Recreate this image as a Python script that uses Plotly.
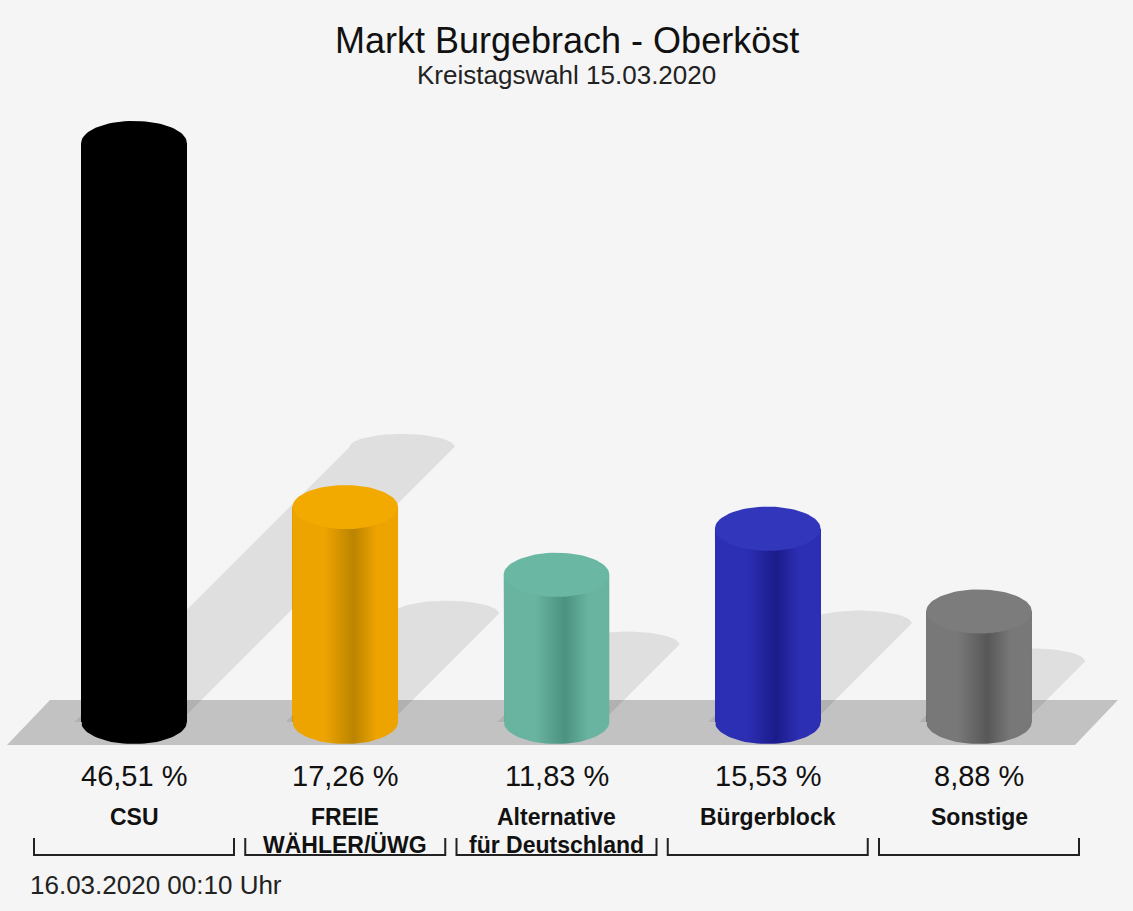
import numpy as np
import plotly.graph_objects as go

# ---------------- data ----------------
title = "Markt Burgebrach - Oberköst"
subtitle = "Kreistagswahl 15.03.2020"
timestamp = "16.03.2020 00:10 Uhr"
parties = ["CSU", "FREIE<br>WÄHLER/ÜWG", "Alternative<br>für Deutschland", "Bürgerblock", "Sonstige"]
values = [46.51, 17.26, 11.83, 15.53, 8.88]
colors = ["#000000", "#eea400", "#68b4a0", "#2c2fb4", "#787878"]
dark_colors = ["#000000", "#bb8400", "#4c9280", "#1b1b8a", "#575757"]
top_colors = ["#000000", "#f2a900", "#6ab8a3", "#3236ba", "#7c7c7c"]

W, H = 1133, 911
PX_X = 211.25      # px per category step
X0_PX = 134.0      # px of first category centre
PX_Y = 12.45       # px per percent
Y0_PX = 722.0      # px of value 0


def dx(px):
    return (px - X0_PX) / PX_X


def dy(py):
    return (Y0_PX - py) / PX_Y


def ppy(py):
    return 1 - py / H


xs = list(range(len(values)))
bar_w = 0.5
ell_a = bar_w / 2
ell_b = 22 / PX_Y

fig = go.Figure()

# floor (pixel based decoration)
floor = [(50, 700), (1118, 700), (1075, 745), (7, 745)]
fig.add_shape(type="path", xref="x", yref="y",
              path="M " + " L ".join(f"{dx(a)},{dy(b)}" for a, b in floor) + " Z",
              fillcolor="#c2c2c2", line=dict(width=0), layer="below")

# shadows
t_cap = np.linspace(np.pi, 0, 30)
for i, v in enumerate(values):
    cpx = X0_PX + i * PX_X
    bl, br = cpx - 52.5, cpx + 52.5
    h = v * 5.7 - 12
    pts = [(bl - 7, 722), (bl + 15 + h, 700 - h)]
    mx = (bl + br) / 2 + 15 + h
    for t in t_cap:
        pts.append((mx + 52.5 * np.cos(t), 700 - h - 13 * np.sin(t)))
    pts += [(br + 15 + h, 700 - h), (br - 7, 722)]
    fig.add_trace(go.Scatter(x=[dx(p[0]) for p in pts], y=[dy(p[1]) for p in pts],
                             fill="toself", fillcolor="rgba(0,0,0,0.085)",
                             line=dict(width=0), mode="lines", hoverinfo="skip"))

# base bars (data)
fig.add_trace(go.Bar(x=xs, y=values, width=bar_w, marker=dict(color=colors, line=dict(width=0)),
                     hoverinfo="skip"))

# cylinder shading
tb = np.linspace(np.pi, 2 * np.pi, 40)
for i, v in enumerate(values):
    xl, xr = i - ell_a, i + ell_a
    bx = [xl] + list(i + ell_a * np.cos(tb)) + [xr, xr] + list(i + ell_a * np.cos(tb[::-1])) + [xl]
    by = [v] + list(ell_b * np.sin(tb)) + [0, v] + list(v + ell_b * np.sin(tb[::-1])) + [v]
    cs = [[0, colors[i]], [0.3, colors[i]], [0.58, dark_colors[i]], [0.8, colors[i]], [1, colors[i]]]
    fig.add_trace(go.Scatter(x=bx, y=by, fill="toself", mode="lines", line=dict(width=0),
                             fillgradient=dict(type="horizontal", colorscale=cs),
                             hoverinfo="skip"))
    te = np.linspace(0, 2 * np.pi, 80)
    fig.add_trace(go.Scatter(x=list(i + ell_a * np.cos(te)), y=list(v + ell_b * np.sin(te)),
                             fill="toself", fillcolor=top_colors[i], mode="lines",
                             line=dict(width=0), hoverinfo="skip"))

FONT = "Liberation Sans, Arial, Helvetica, sans-serif"
ann = []
ann.append(dict(text=title, x=0.5, y=ppy(41), xref="paper", yref="paper", showarrow=False,
                font=dict(family=FONT, size=36, color="#111"), xanchor="center", yanchor="middle"))
ann.append(dict(text=subtitle, x=0.5, y=ppy(75), xref="paper", yref="paper", showarrow=False,
                font=dict(family=FONT, size=26, color="#222"), xanchor="center", yanchor="middle"))
ann.append(dict(text=timestamp, x=28 / W, y=ppy(885), xref="paper", yref="paper", showarrow=False,
                font=dict(family=FONT, size=26, color="#222"), xanchor="left", yanchor="middle"))
for i, (p, v) in enumerate(zip(parties, values)):
    ann.append(dict(text=f"{v:.2f}".replace(".", ",") + " %", x=i, y=ppy(776), xref="x", yref="paper",
                    showarrow=False, font=dict(family=FONT, size=29, color="#111"),
                    xanchor="center", yanchor="middle"))
    for k, line in enumerate(p.split("<br>")):
        ann.append(dict(text="<b>" + line + "</b>", x=i, y=ppy(817 + 28 * k), xref="x", yref="paper",
                        showarrow=False, font=dict(family=FONT, size=23, color="#111"),
                        xanchor="center", yanchor="middle"))
    hw = 100 / PX_X
    fig.add_shape(type="path", xref="x", yref="y",
                  path=f"M {i-hw},{dy(838)} L {i-hw},{dy(855)} L {i+hw},{dy(855)} L {i+hw},{dy(838)}",
                  line=dict(color="#222", width=2))

fig.update_layout(
    width=W, height=H, margin=dict(l=0, r=0, t=0, b=0, pad=0),
    paper_bgcolor="#f5f5f5", plot_bgcolor="#f5f5f5", showlegend=False,
    xaxis=dict(range=[dx(0), dx(W)], visible=False, fixedrange=True),
    yaxis=dict(range=[dy(H), dy(0)], visible=False, fixedrange=True),
    annotations=ann, bargap=0,
)
fig.write_html("out.html", config={"displayModeBar": False},
               post_script="document.body.style.margin='0';document.body.style.overflow='hidden';")
